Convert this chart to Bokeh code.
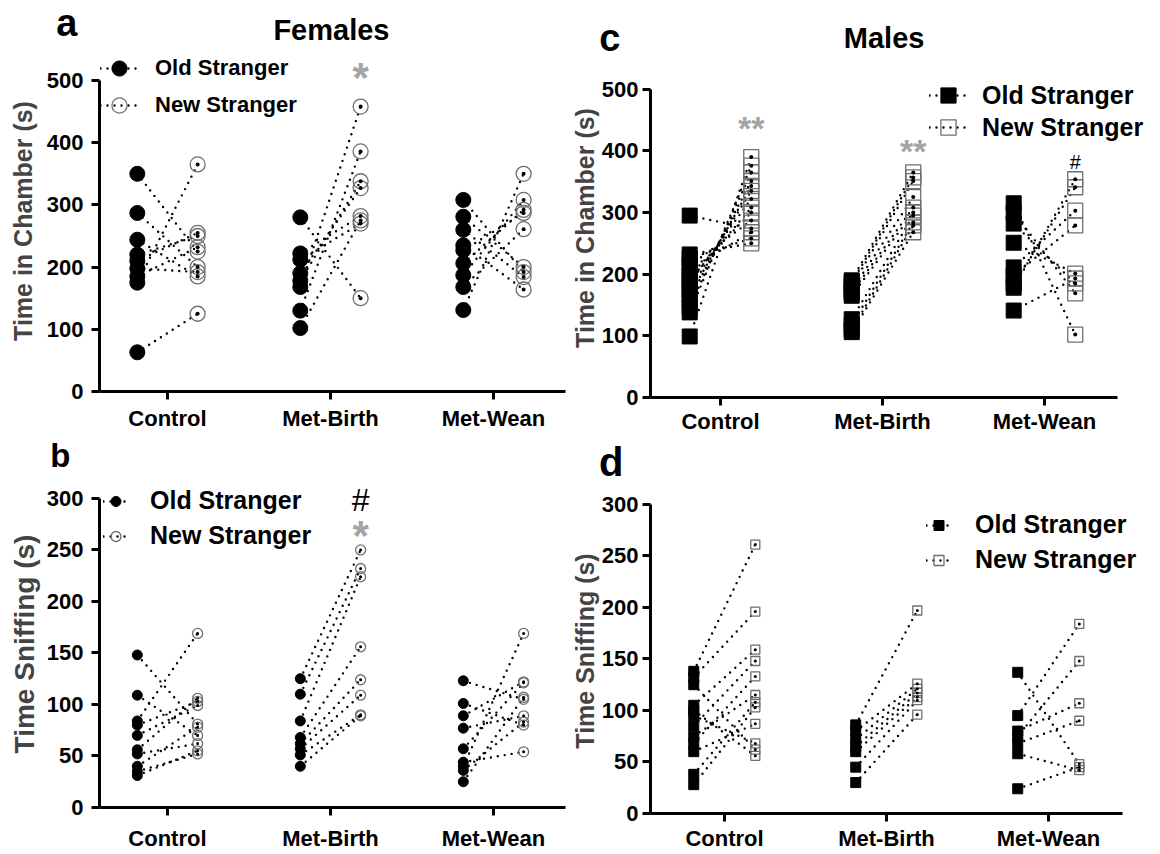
from bokeh.plotting import figure
from bokeh.layouts import row, column
from bokeh.models import Range1d, FixedTicker, Label, Legend, LegendItem, ColumnDataSource
from bokeh.embed import file_html
from bokeh.resources import INLINE

FONT = "Liberation Sans"
categories = ["Control", "Met-Birth", "Met-Wean"]

# ---- Panel a: Females, Time in Chamber (s) ----
fa_control_old = [350, 287, 244, 220, 210, 198, 185, 175, 63]
fa_control_new = [225, 200, 185, 250, 255, 192, 232, 365, 125]
fa_birth_old = [280, 222, 212, 190, 178, 168, 130, 102]
fa_birth_new = [150, 282, 270, 327, 338, 458, 386, 275]
fa_wean_old = [308, 281, 260, 235, 227, 206, 187, 168, 131]
fa_wean_new = [192, 200, 184, 164, 287, 292, 308, 261, 350]

# ---- Panel b: Females, Time Sniffing (s) ----
fb_control_old = [148, 109, 84, 80, 70, 56, 52, 40, 35, 31]
fb_control_new = [81, 70, 169, 103, 99, 106, 62, 78, 52, 55]
fb_birth_old = [125, 110, 84, 68, 62, 57, 51, 40]
fb_birth_new = [250, 232, 224, 156, 124, 109, 90, 89]
fb_wean_old = [123, 101, 89, 77, 57, 44, 40, 36, 25]
fb_wean_new = [105, 80, 122, 89, 121, 54, 169, 83, 107]

# ---- Panel c: Males, Time in Chamber (s) ----
mc_control_old = [295, 232, 226, 214, 209, 198, 190, 186, 175, 166, 160, 147, 138, 99]
mc_control_new = [274, 250, 258, 287, 268, 300, 308, 322, 335, 343, 351, 365, 376, 390]
mc_birth_old = [190, 186, 180, 174, 170, 165, 127, 118, 110, 106]
mc_birth_new = [365, 357, 351, 325, 308, 300, 295, 284, 279, 268]
mc_wean_old = [315, 300, 282, 251, 211, 198, 185, 178, 141]
mc_wean_new = [102, 169, 185, 201, 303, 279, 341, 354, 193]

# ---- Panel d: Males, Time Sniffing (s) ----
md_control_old = [138, 132, 125, 105, 100, 95, 85, 75, 68, 60, 38, 28]
md_control_new = [261, 196, 62, 159, 56, 68, 148, 115, 133, 87, 108, 103]
md_birth_old = [86, 80, 72, 65, 60, 45, 30]
md_birth_new = [197, 126, 121, 117, 113, 110, 96]
md_wean_old = [137, 95, 80, 75, 68, 58, 24]
md_wean_new = [48, 184, 107, 148, 90, 42, 45]

series_labels = ["Old Stranger", "New Stranger"]
GRAY = "#a4a4a4"


def make_panel(width, height, borders, xr, xbounds, ytop, ymax, ystep, olds, news, d,
               marker, old_size, new_size, dot_size, ylabel, ylabel_size,
               ytick_standoff, ylabel_standoff, xtick_standoff, leg):
    left, right, top, bottom = borders
    p = figure(width=width, height=height, output_backend="svg", toolbar_location=None,
               x_range=xr, y_range=Range1d(0, ytop),
               min_border_left=left, min_border_right=right,
               min_border_top=top, min_border_bottom=bottom)
    p.xgrid.visible = False
    p.ygrid.visible = False
    p.outline_line_color = None
    p.background_fill_color = "white"
    p.border_fill_color = "white"

    for ax in (p.xaxis[0], p.yaxis[0]):
        ax.axis_line_width = 3
        ax.axis_line_color = "black"
        ax.major_tick_line_width = 3
        ax.major_tick_line_color = "black"
        ax.major_tick_out = 8
        ax.major_tick_in = 0
        ax.minor_tick_line_color = None
        ax.major_label_text_font = FONT
        ax.major_label_text_font_style = "bold"
        ax.major_label_text_font_size = "22px"
        ax.major_label_text_color = "black"
    p.xaxis.ticker = FixedTicker(ticks=[0, 1, 2])
    p.xaxis.major_label_overrides = {i: c for i, c in enumerate(categories)}
    p.xaxis.major_label_standoff = xtick_standoff
    p.xaxis.bounds = xbounds
    p.yaxis.ticker = FixedTicker(ticks=list(range(0, ymax + 1, ystep)))
    p.yaxis.bounds = (0, ymax)
    p.yaxis.major_label_standoff = ytick_standoff
    p.yaxis.axis_label = ylabel
    p.yaxis.axis_label_text_font = FONT
    p.yaxis.axis_label_text_font_style = "bold"
    p.yaxis.axis_label_text_font_size = ylabel_size
    p.yaxis.axis_label_standoff = ylabel_standoff

    first = None
    for g, (o, n) in enumerate(zip(olds, news)):
        src = ColumnDataSource(dict(x0=[g - d] * len(o), y0=o, x1=[g + d] * len(n), y1=n))
        seg = p.segment("x0", "y0", "x1", "y1", source=src, line_color="black",
                        line_width=2.4, line_dash="0 7", line_cap="round")
        r_old = p.scatter("x0", "y0", source=src, marker=marker, size=old_size,
                          fill_color="black", line_color="black")
        r_new = p.scatter("x1", "y1", source=src, marker=marker, size=new_size,
                          fill_color=None, line_color="#6f6f6f", line_width=1.3)
        p.scatter("x1", "y1", source=src, marker="circle", size=dot_size,
                  fill_color="black", line_color=None)
        if first is None:
            first = (seg, r_old, r_new)

    seg, r_old, r_new = first
    gw, gh, vx, standoff, vy_old, vy_new, fsize = leg
    for lab, rends, vy in ((series_labels[0], [seg, r_old], vy_old),
                           (series_labels[1], [seg, r_new], vy_new)):
        lg = Legend(items=[LegendItem(label=lab, renderers=rends)], location=(vx, vy),
                    glyph_width=gw, glyph_height=gh, label_height=gh,
                    label_standoff=standoff, padding=0, margin=0, spacing=0,
                    border_line_color=None, background_fill_alpha=0,
                    label_text_font=FONT, label_text_font_style="bold",
                    label_text_font_size=fsize, label_text_color="black")
        p.add_layout(lg)
    return p


def header(width, height, xr, ytop, ybottom, left, right, letter, letter_y,
           letter_size, letter_standoff):
    # strip above a panel: the panel letter is the single tick label of a bare y axis
    h = figure(width=width, height=height, output_backend="svg", toolbar_location=None,
               x_range=xr, y_range=Range1d(ybottom, ytop), x_axis_type=None,
               min_border_left=left, min_border_right=right,
               min_border_top=0, min_border_bottom=0)
    h.ygrid.visible = False
    h.outline_line_color = None
    h.background_fill_color = "white"
    h.border_fill_color = "white"
    ax = h.yaxis[0]
    ax.axis_line_color = None
    ax.major_tick_line_color = None
    ax.minor_tick_line_color = None
    ax.major_tick_out = 0
    ax.major_tick_in = 0
    ax.ticker = FixedTicker(ticks=[letter_y])
    ax.major_label_overrides = {letter_y: letter}
    ax.major_label_text_font = FONT
    ax.major_label_text_font_style = "bold"
    ax.major_label_text_font_size = letter_size
    ax.major_label_text_color = "black"
    ax.major_label_standoff = letter_standoff
    return h


def add_text(p, x, y, text, size, color="black", style="bold", align="left"):
    p.add_layout(Label(x=x, y=y, text=text, text_font=FONT, text_font_style=style,
                       text_font_size=size, text_color=color, text_align=align,
                       text_baseline="alphabetic"))


# ---------- left column (x 0..566) ----------
xr_left = Range1d(-0.417, 2.442)
xr_b = Range1d(-0.417, 2.442)

ha = header(566, 50, xr_left, 0, 50, 99, 1, "a", 22, "38px", 22)
add_text(ha, 1.006, 29, "Females", "29px", align="center")

pa = make_panel(566, 386, (99, 1, 0, 45), xr_left, (-0.417, 2.442), 548.2, 500, 100,
                [fa_control_old, fa_birth_old, fa_wean_old],
                [fa_control_new, fa_birth_new, fa_wean_new],
                0.185, "circle", 15, 15, 4, "Time in Chamber (s)", "25px", 8, 7, 6,
                (38, 38, 1, 17, 304, 267, "22px"))
add_text(pa, 1.185, 504, "*", "42px", color=GRAY, align="center")

hb = header(566, 44, xr_b, 436, 480, 99, 1, "b", 455, "33px", 29)

pb = make_panel(566, 373, (99, 1, 0, 44), xr_b, (-0.417, 2.442), 317.4, 300, 50,
                [fb_control_old, fb_birth_old, fb_wean_old],
                [fb_control_new, fb_birth_new, fb_wean_new],
                0.185, "circle", 10, 10, 3, "Time Sniffing (s)", "28px", 8, 4, 10,
                (25, 28, 4, 22, 292, 257, "25px"))
add_text(pb, 1.185, 298, "#", "32px", style="normal", align="center")
add_text(pb, 1.185, 264, "*", "42px", color=GRAY, align="center")

# ---------- right column (x 566..1160) ----------
xr_c = Range1d(-0.432, 2.667)
xr_d = Range1d(-0.457, 2.642)

hc = header(594, 58, xr_c, 0, 58, 84, 8, "c", 37, "38px", 30)
add_text(hc, 1.01, 37, "Males", "29px", align="center")

pc = make_panel(594, 378, (84, 8, 0, 36), xr_c, (-0.432, 2.451), 549.8, 500, 100,
                [mc_control_old, mc_birth_old, mc_wean_old],
                [mc_control_new, mc_birth_new, mc_wean_new],
                0.19, "square", 15, 15, 4, "Time in Chamber (s)", "25px", 4, 0, 3,
                (38, 38, 279, 15, 283, 251, "25px"))
add_text(pc, 0.19, 437, "**", "34px", color=GRAY, align="center")
add_text(pc, 1.19, 400, "**", "34px", color=GRAY, align="center")
add_text(pc, 2.19, 382, "#", "20px", style="normal", align="center")

hd = header(594, 52, xr_d, 436, 488, 84, 8, "d", 455, "40px", 27)

pd_ = make_panel(594, 365, (84, 8, 0, 37), xr_d, (-0.457, 2.457), 315.4, 300, 50,
                 [md_control_old, md_birth_old, md_wean_old],
                 [md_control_new, md_birth_new, md_wean_new],
                 0.19, "square", 10, 9, 3, "Time Sniffing (s)", "25px", 4, 0, 4,
                 (25, 28, 276, 24, 274, 239, "25px"))

layout = row(column(ha, pa, hb, pb), column(hc, pc, hd, pd_))

open("out.html", "w").write(file_html(layout, INLINE))
